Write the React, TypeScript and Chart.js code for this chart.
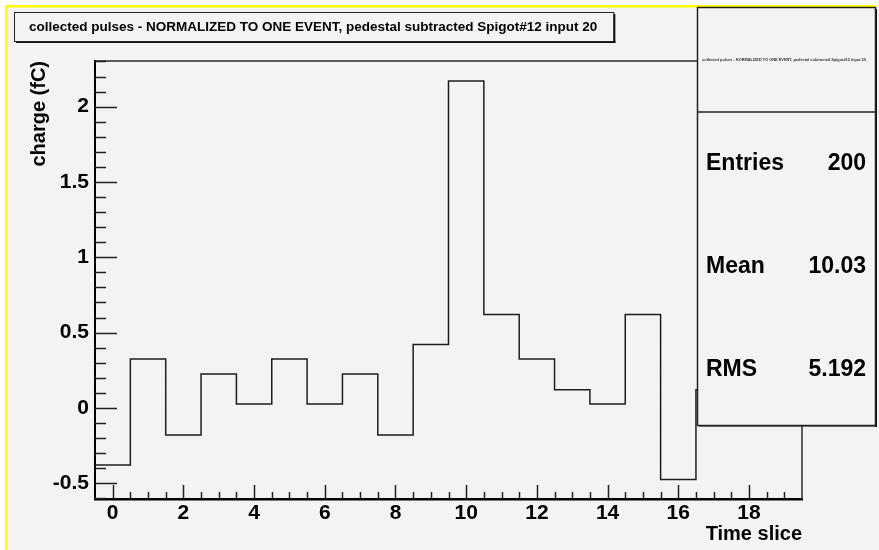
import React, { useEffect, useRef } from 'react';
import { Chart, registerables } from 'chart.js';

Chart.register(...registerables);

const TITLE = 'collected pulses - NORMALIZED TO ONE EVENT, pedestal subtracted Spigot#12 input 20';
const X_TITLE = 'Time slice';
const Y_TITLE = 'charge (fC)';

const BIN_CENTERS = [0, 1, 2, 3, 4, 5, 6, 7, 8, 9, 10, 11, 12, 13, 14, 15, 16, 17, 18, 19];
const BIN_VALUES = [-0.38, 0.325, -0.18, 0.225, 0.025, 0.325, 0.025, 0.225, -0.18, 0.42, 2.17, 0.62, 0.325, 0.12, 0.025, 0.62, -0.475, 0.12, 0.025, 0.22];

const X_MIN = -0.5;
const X_MAX = 19.5;
const Y_MIN = -0.605;
const Y_MAX = 2.303;

const X_TICKS = [0, 2, 4, 6, 8, 10, 12, 14, 16, 18];
const Y_TICKS = [-0.5, 0, 0.5, 1, 1.5, 2];

const STAT_LABELS = ['Entries', 'Mean', 'RMS'];
const STAT_VALUES = ['200', '10.03', '5.192'];

const FONT = '"Liberation Sans", Arial, Helvetica, sans-serif';
const BG = '#f3f3f3';

const rootPlugin = {
  id: 'rootDecor',
  beforeDraw(chart: any) {
    const { ctx, width, height } = chart;
    ctx.save();
    ctx.fillStyle = '#ffffff';
    ctx.fillRect(0, 0, width, height);
    ctx.fillStyle = BG;
    ctx.fillRect(5, 5, width - 5, height - 5);
    ctx.fillStyle = '#ffff00';
    ctx.fillRect(5, 5, 2.5, height - 5);
    ctx.fillRect(5, 5, 870, 2.5);
    ctx.restore();
  },
  afterDraw(chart: any) {
    const { ctx, chartArea } = chart;
    const xs = chart.scales.x;
    const ys = chart.scales.y;
    const { left, right, top, bottom } = chartArea;
    ctx.save();
    ctx.strokeStyle = '#2a2a2a';
    ctx.lineWidth = 1.5;
    ctx.beginPath();
    ctx.moveTo(left, top);
    ctx.lineTo(right, top);
    ctx.lineTo(right, bottom);
    ctx.stroke();
    ctx.strokeStyle = '#222';
    ctx.lineWidth = 1.5;
    ctx.beginPath();
    for (let k = 0; k <= Math.round((X_MAX - X_MIN) * 2); k++) {
      const v = X_MIN + k * 0.5;
      const major = Math.abs(v / 2 - Math.round(v / 2)) < 1e-6;
      const px = Math.round(xs.getPixelForValue(v)) + 0.5;
      if (px <= left + 1 || px >= right - 1) continue;
      ctx.moveTo(px, bottom);
      ctx.lineTo(px, bottom - (major ? 14 : 7));
    }
    for (let k = Math.ceil(Y_MIN * 10); k <= Math.floor(Y_MAX * 10); k++) {
      const v = k / 10;
      const major = k % 5 === 0;
      const py = Math.round(ys.getPixelForValue(v)) + 0.5;
      ctx.moveTo(left, py);
      ctx.lineTo(left + (major ? 22 : 11), py);
    }
    ctx.stroke();

    ctx.font = `bold 13.5px ${FONT}`;
    const tw = ctx.measureText(TITLE).width;
    const tx0 = 14, ty0 = 12, tx1 = 29 + tw + 16, ty1 = 41;
    ctx.fillStyle = BG;
    ctx.fillRect(tx0, ty0, tx1 - tx0, ty1 - ty0);
    ctx.fillStyle = '#111';
    ctx.fillRect(tx0 + 2, ty1, tx1 - tx0, 2);
    ctx.fillRect(tx1, ty0 + 2, 2, ty1 - ty0);
    ctx.strokeStyle = '#222';
    ctx.lineWidth = 1;
    ctx.strokeRect(tx0 + 0.5, ty0 + 0.5, tx1 - tx0, ty1 - ty0);
    ctx.fillStyle = '#000';
    ctx.textBaseline = 'middle';
    ctx.textAlign = 'left';
    ctx.fillText(TITLE, 29, 27.5);

    const sx0 = 697, sy0 = 7, sx1 = 875, sy1 = 425;
    ctx.fillStyle = BG;
    ctx.fillRect(sx0, sy0, sx1 - sx0, sy1 - sy0);
    ctx.fillStyle = '#111';
    ctx.fillRect(sx1, sy0 + 2, 2, sy1 - sy0);
    ctx.fillRect(sx0 + 2, sy1, sx1 - sx0, 1.5);
    ctx.strokeStyle = '#222';
    ctx.lineWidth = 1.5;
    ctx.strokeRect(sx0 + 0.5, sy0 + 0.5, sx1 - sx0, sy1 - sy0);
    ctx.beginPath();
    ctx.moveTo(sx0, 112);
    ctx.lineTo(sx1, 112);
    ctx.stroke();
    ctx.fillStyle = '#333';
    ctx.font = `bold 3.9px ${FONT}`;
    ctx.textAlign = 'center';
    ctx.fillText(TITLE, (sx0 + sx1) / 2 - 2, 60);
    ctx.fillStyle = '#000';
    ctx.font = `bold 23px ${FONT}`;
    const rowY = [164, 267, 370];
    STAT_LABELS.forEach((lab, i) => {
      ctx.textAlign = 'left';
      ctx.fillText(lab, 706, rowY[i]);
      ctx.textAlign = 'right';
      ctx.fillText(STAT_VALUES[i], 866, rowY[i]);
    });
    ctx.restore();
  },
};

export default function App() {
  const ref = useRef<HTMLCanvasElement>(null);
  useEffect(() => {
    document.body.style.margin = '0';
    const points = BIN_CENTERS.map((c, i) => ({ x: c - 0.5, y: BIN_VALUES[i] }));
    const last = BIN_CENTERS.length - 1;
    points.push({ x: BIN_CENTERS[last] + 0.5, y: BIN_VALUES[last] });
    const chart = new Chart(ref.current as HTMLCanvasElement, {
      type: 'line',
      data: {
        datasets: [
          {
            data: points,
            stepped: 'before',
            borderColor: '#1e1e1e',
            borderWidth: 1.5,
            pointRadius: 0,
            fill: false,
            tension: 0,
          },
        ],
      },
      options: {
        animation: false,
        responsive: false,
        devicePixelRatio: 1,
        layout: { padding: { left: 0, top: 61, right: 77, bottom: 0 } },
        plugins: { legend: { display: false }, tooltip: { enabled: false }, title: { display: false } },
        scales: {
          x: {
            type: 'linear',
            min: X_MIN,
            max: X_MAX,
            grid: { display: true, drawOnChartArea: false, drawTicks: false },
            border: { display: true, color: '#000', width: 2.5 },
            afterBuildTicks: (s: any) => {
              s.ticks = X_TICKS.map((v) => ({ value: v }));
            },
            afterFit: (s: any) => {
              s.height = 51;
            },
            ticks: {
              color: '#000',
              font: { family: FONT, size: 21, weight: 'bold' },
              padding: 2,
              maxRotation: 0,
              autoSkip: false,
              callback: (v: any) => String(v),
            },
            title: {
              display: true,
              text: X_TITLE,
              align: 'end',
              color: '#000',
              font: { family: FONT, size: 20, weight: 'bold' },
              padding: { top: 0, bottom: 4 },
            },
          },
          y: {
            type: 'linear',
            min: Y_MIN,
            max: Y_MAX,
            grid: { display: true, drawOnChartArea: false, drawTicks: false },
            border: { display: true, color: '#000', width: 2 },
            afterBuildTicks: (s: any) => {
              s.ticks = Y_TICKS.map((v) => ({ value: v }));
            },
            afterFit: (s: any) => {
              s.width = 95;
            },
            ticks: {
              color: '#000',
              font: { family: FONT, size: 21, weight: 'bold' },
              padding: 6,
              autoSkip: false,
              callback: (v: any) => String(v),
            },
            title: {
              display: true,
              text: Y_TITLE,
              align: 'end',
              color: '#000',
              font: { family: FONT, size: 20, weight: 'bold' },
              padding: { top: 27, bottom: 0 },
            },
          },
        },
      },
      plugins: [rootPlugin],
    });
    return () => chart.destroy();
  }, []);
  return (
    <div style={{ position: 'absolute', left: 0, top: 0, width: 879, height: 550 }}>
      <canvas ref={ref} width={879} height={550} style={{ display: 'block', width: 879, height: 550 }} />
    </div>
  );
}
